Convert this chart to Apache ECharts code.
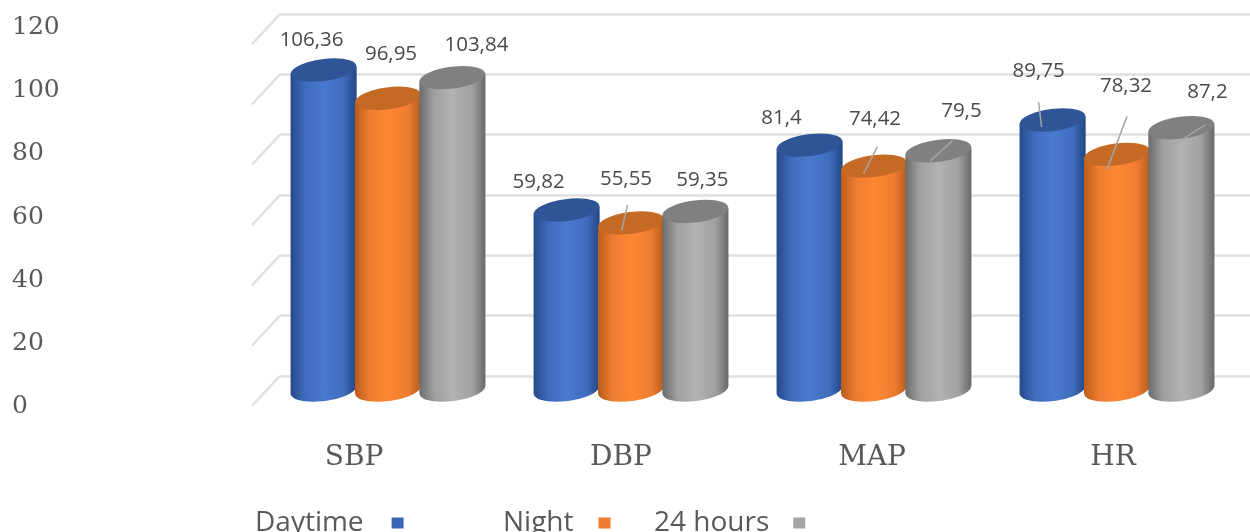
<!DOCTYPE html>
<html><head><meta charset="utf-8">
<style>html,body{margin:0;padding:0;background:#fff}#c{width:1250px;height:532px}</style>
<script src="https://cdn.jsdelivr.net/npm/echarts@6/dist/echarts.min.js"></script>
</head><body><div id="c"></div>
<script>
var categories = ['SBP', 'DBP', 'MAP', 'HR'];
var daytime = [106.36, 59.82, 81.4, 89.75];
var night = [96.95, 55.55, 74.42, 78.32];
var hours24 = [103.84, 59.35, 79.5, 87.2];
var dayLabels = ['106,36', '59,82', '81,4', '89,75'];
var nightLabels = ['96,95', '55,55', '74,42', '78,32'];
var hoursLabels = ['103,84', '59,35', '79,5', '87,2'];
var ticks = [0, 20, 40, 60, 80, 100, 120];

// label positions relative to each cylinder top
var dayOffsets = [[-12,-30],[-28,-28],[-28,-27],[-14,-49]];
var nightOffsets = [[3,-44],[-5,-44],[1,-47],[9,-68]];
var hoursOffsets = [[24,-32],[7,-31],[23,-40],[26,-36]];
// leader lines relative to each cylinder top
var dayLeaders = [null,null,null,[-14,-18,-11,7]];
var nightLeaders = [null,[-3.5,-18,-9.5,8],[3.5,-19.5,-10.5,7.5],[10,-38,-10,15]];
var hoursLeaders = [null,null,[14,-10,-8,10],[24,-3,-7,17]];
var catLabelShift = [-34,-10,-2,-4];

function grad(a,m,b,c){return {type:'linear',x:0,y:0,x2:1,y2:0,colorStops:[
  {offset:0,color:a},{offset:0.22,color:m},{offset:0.5,color:b},{offset:0.8,color:m},{offset:1,color:c}]};}

function cylinder(name, values, labels, offsets, leaders, shift, body, topCol, legendCol){
  return {
    name:name, type:'custom', xAxisIndex:3, yAxisIndex:3, clip:false, silent:true,
    itemStyle:{color:legendCol},
    data: values.map(function(v,i){return [i,v];}),
    renderItem:function(params,api){
      var i=api.value(0), v=api.value(1);
      var band=api.size([1,0])[0];
      var w=band*0.272, rx=w/2, ry=11, rot=0.13;
      var cx=api.coord([i,0])[0]+band*shift;
      var top=api.coord([i,v])[1], base=api.coord([i,0])[1];
      var d=rx*Math.sin(rot)*0.85;
      var ell=function(y,col){return {type:'ellipse',
        shape:{cx:cx,cy:y,rx:rx,ry:ry},originX:cx,originY:y,rotation:rot,
        style:{fill:col}};};
      var kids=[
        ell(base,body),
        {type:'polygon',shape:{points:[[cx-rx,top+d],[cx+rx,top-d],[cx+rx,base-d],[cx-rx,base+d]]},style:{fill:body}},
        ell(top,topCol)
      ];
      var l=leaders[i];
      if(l){kids.push({type:'line',shape:{x1:cx+l[0],y1:top+l[1],x2:cx+l[2],y2:top+l[3]},
        style:{stroke:'#a6a6a6',lineWidth:1.5}});}
      var o=offsets[i];
      kids.push({type:'text',x:cx+o[0],y:top+o[1],style:{text:labels[i],
        fontFamily:'"Open Sans"',fontSize:20.5,fill:'#4a4a4a',align:'center',verticalAlign:'middle'}});
      return {type:'group',children:kids};
    }
  };
}

var slants = ticks.map(function(t){return {
  type:'line', xAxisIndex:2, yAxisIndex:2, symbol:'none', silent:true,
  lineStyle:{color:'#e0e0e0',width:2.5}, data:[[0,t-10],[1,t]]
};});

function legendAt(name,left,gap){return {
  data:[name], left:left, top:504, align:'right', icon:'rect', itemWidth:12, itemHeight:11,
  textStyle:{fontFamily:'"Open Sans"',fontSize:28,color:'#595959',padding:[0,gap,0,0]}
};}

var hiddenX={type:'value',show:false,min:0,max:1};
var chart=echarts.init(document.getElementById('c'),null,{renderer:'canvas'});
chart.setOption({
  animation:false, backgroundColor:'#fff',
  legend:[legendAt('Daytime',250,23),legendAt('Night',498,20),legendAt('24 hours',649,19)],
  grid:[
    {left:60,width:100,top:27.5,height:379},
    {left:280,right:0,top:14,height:362},
    {left:252,width:28,top:14,height:392},
    {left:266.5,width:972,top:29,height:361}
  ],
  xAxis:[
    Object.assign({gridIndex:0},hiddenX),
    Object.assign({gridIndex:1},hiddenX),
    Object.assign({gridIndex:2},hiddenX),
    {gridIndex:3,type:'category',
      data:categories.map(function(c,i){
        var s=catLabelShift[i];
        return {value:c,textStyle:{padding:[0,-2*s,0,0]}};
      }),
      axisLine:{show:false},axisTick:{show:false},
      axisLabel:{margin:54,fontFamily:'"DejaVu Serif"',fontSize:28,color:'#595959'}}
  ],
  yAxis:[
    {gridIndex:0,type:'value',min:0,max:120,interval:20,axisLine:{show:false},axisTick:{show:false},splitLine:{show:false},
      axisLabel:{align:'left',margin:48,fontFamily:'"DejaVu Serif"',fontSize:25,color:'#595959'}},
    {gridIndex:1,type:'value',min:0,max:120,interval:20,axisLine:{show:false},axisTick:{show:false},axisLabel:{show:false},
      splitLine:{show:true,lineStyle:{color:'#e0e0e0',width:2.5}}},
    {gridIndex:2,type:'value',min:-10,max:120,interval:10,show:false},
    {gridIndex:3,type:'value',min:0,max:120,interval:20,show:false}
  ],
  series:slants.concat([
    cylinder('Daytime',daytime,dayLabels,dayOffsets,dayLeaders,-0.265,grad('#264a8a','#3f6cbd','#4a7ace','#234684'),'#2f5597','#3a66b8'),
    cylinder('Night',night,nightLabels,nightOffsets,nightLeaders,0,grad('#b95c1c','#ee7d31','#fd8733','#b85b1c'),'#c56a25','#ee7d31'),
    cylinder('24 hours',hours24,hoursLabels,hoursOffsets,hoursLeaders,0.265,grad('#6c6c6c','#a0a0a0','#b2b2b2','#696969'),'#808080','#a5a5a5')
  ])
});
</script></body></html>
